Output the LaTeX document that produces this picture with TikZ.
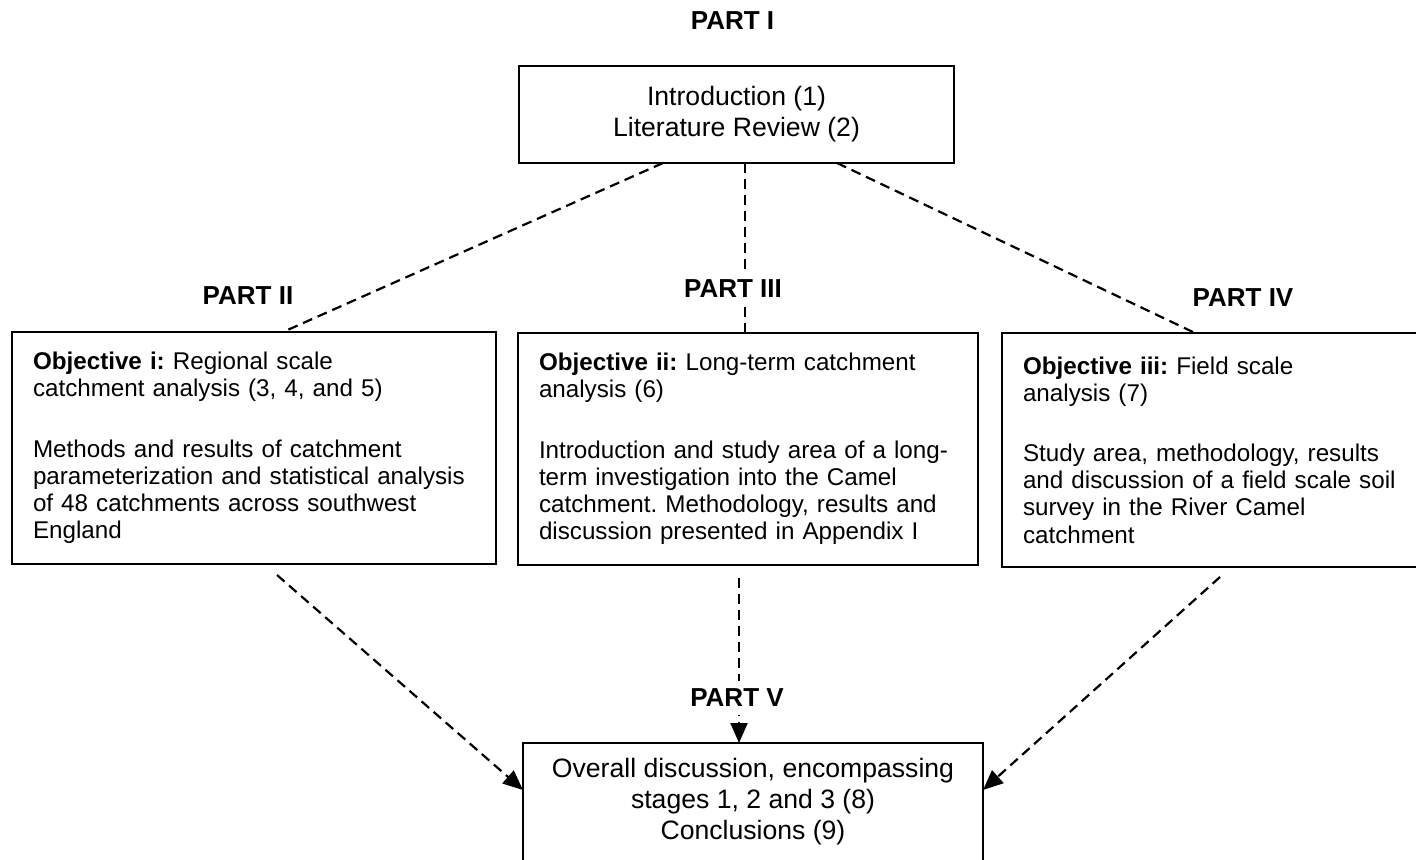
\documentclass[tikz,border=0pt]{standalone}
\usepackage{fontspec}
\setmainfont{Liberation Sans}
\usetikzlibrary{arrows.meta,positioning}
\frenchspacing
\begin{document}
\begin{tikzpicture}[x=0.5pt,y=-0.5pt,
	box/.style={draw,line width=1.1pt,inner sep=0pt,outer sep=0pt},
	topbox/.style={box,align=center,font=\fontsize{13.3}{15.6}\selectfont},
	objbox/.style={box,align=left,inner xsep=10.5pt,font=\fontsize{12.1}{13.6}\selectfont},
	part/.style={font=\bfseries\fontsize{13}{15}\selectfont,fill=white,inner sep=4pt},
	link/.style={line width=1.1pt,dash pattern=on 5pt off 3pt},
	arr/.style={link,-{Triangle[length=10pt,width=8.5pt]}}]
	\useasboundingbox (0,0) rectangle (1416,860);
	\node[topbox,minimum width=217.5pt,minimum height=48.5pt] (intro) at (736.5,114.5)
		{Introduction (1)\\Literature Review (2)};
	\node[objbox,text width=221pt,minimum width=242pt,minimum height=116pt] (obj1) at (254,448)
		{\textbf{Objective i:} Regional scale\\catchment analysis (3, 4, and 5)\\[16.5pt]Methods and results of catchment\\parameterization and statistical analysis\\of 48 catchments across southwest\\England};
	\node[objbox,text width=209pt,minimum width=230pt,minimum height=116pt] (obj2) at (748,449)
		{\textbf{Objective ii:} Long-term catchment\\analysis (6)\\[16.5pt]Introduction and study area of a long-\\term investigation into the Camel\\catchment. Methodology, results and\\discussion presented in Appendix I};
	\node[objbox,text width=190pt,minimum width=211pt,minimum height=117pt] (obj3) at (1213,450)
		{\textbf{Objective iii:} Field scale\\analysis (7)\\[16.5pt]Study area, methodology, results\\and discussion of a field scale soil\\survey in the River Camel\\catchment};
	\node[topbox,anchor=north,minimum width=230pt,inner ysep=7.5pt] (final) at (753,743)
		{Overall discussion, encompassing\\stages 1, 2 and 3 (8)\\Conclusions (9)\\\rule{0pt}{40pt}};
	\draw[link] ([xshift=-36.75pt]intro.south) -- ([xshift=14.5pt]obj1.north);
	\draw[link] ([xshift=4.25pt]intro.south) -- ([xshift=4.25pt]intro.south |- obj2.north);
	\draw[link] ([xshift=50.25pt]intro.south) -- ([xshift=-9pt]obj3.north);
	\draw[arr] ([xshift=11.5pt,yshift=-5.5pt]obj1.south) -- ([yshift=-23.5pt]final.north west);
	\draw[arr] ([xshift=-4.5pt,yshift=-6.5pt]obj2.south) -- ([xshift=-4.5pt]obj2.south |- final.north);
	\draw[arr] ([xshift=3.5pt,yshift=-5pt]obj3.south) -- ([yshift=-23.5pt]final.north east);
	\node[part,above=14pt of intro,xshift=-2pt] (p1) {PART I};
	\node[part,above=9.5pt of obj1,xshift=-3pt] (p2) {PART II};
	\node[part,above=13.5pt of obj2,xshift=-7.5pt] (p3) {PART III};
	\node[part,above=9pt of obj3,xshift=15pt] (p4) {PART IV};
	\node[part,above=14pt of final,xshift=-8pt] (p5) {PART V};
\end{tikzpicture}
\end{document}
